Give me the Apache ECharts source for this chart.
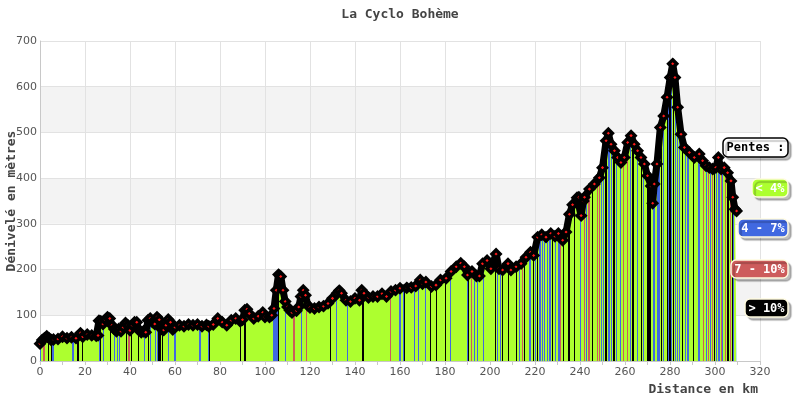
<!DOCTYPE html>
<html>
<head>
<meta charset="utf-8">
<script src="https://cdn.jsdelivr.net/npm/echarts@6/dist/echarts.min.js"></script>
<style>html,body{margin:0;padding:0;background:#fff}#c{width:800px;height:400px}</style>
</head>
<body>
<div id="c"></div>
<script>
// Elevation profile: [distance km, elevation m]
const profile = [[0,38],[1,46],[2,50],[3,54],[4,50],[5,46],[6,47],[8,48],[10,53],[12,50],[14,52],[16,50],[18,61],[19,53],[21,58],[23,56],[25,55],[25.8,56],[26.2,88],[27,87],[28,81],[29,90],[30,96],[31,93],[32,78],[33,70],[34,65],[35,70],[36,65],[37,74],[38,83],[39,78],[40,67],[41,78],[42,85],[43,85],[44,67],[45,63],[46,65],[47,63],[48,89],[49,93],[50,85],[51,81],[52,96],[53,90],[54,70],[55,68],[56,78],[57,91],[58,85],[59,69],[60,74],[62,78],[64,76],[66,80],[68,78],[70,80],[72,76],[74,79],[75,76],[77,80],[79,93],[81,85],[83,78],[85,89],[87,93],[89,87],[90,90],[91,111],[92,113],[93,104],[95,93],[97,98],[99,106],[100,96],[102,96],[103,100],[104,115],[105,155],[106,189],[107,185],[108,155],[109,130],[110,118],[111,111],[112,106],[114,110],[115,118],[116,141],[117,155],[118,144],[119,122],[120,117],[122,115],[124,118],[126,120],[128,126],[130,137],[132,148],[133,154],[134,148],[136,133],[138,130],[140,137],[142,133],[143,155],[144,148],[146,139],[148,141],[150,141],[152,147],[154,141],[156,152],[158,155],[160,159],[163,160],[165,161],[167,164],[169,177],[170,169],[171.5,173],[174,163],[176,166],[178,177],[180.5,181],[182.7,196],[185,206],[187,214],[188.6,206],[190,188],[192,196],[194,186],[195.3,186],[196.7,213],[198.7,220],[200.4,202],[202.7,234],[204,202],[205.6,199],[208,213],[209.3,199],[211.6,206],[213.8,213],[216,227],[218,238],[219.4,231],[221.2,271],[223,276],[224.9,271],[227,279],[228.9,273],[230.4,279],[232.3,264],[233.8,282],[235.3,321],[236.7,342],[238.7,357],[239.5,358],[240.5,318],[241.5,350],[242,358],[244.2,376],[246.4,387],[248.6,401],[250,423],[251.6,482],[252.6,498],[253.8,474],[255.3,460],[256.7,445],[258.2,434],[259.7,445],[261.2,478],[262.7,493],[264.1,474],[265.6,460],[267.1,445],[268.6,431],[270,405],[271.6,383],[272.3,345],[273,387],[274.2,431],[275.7,511],[277.2,536],[278.7,577],[280.1,620],[281.2,650],[282.2,620],[283.4,555],[284.9,496],[286.4,467],[288.6,456],[290.8,445],[293,453],[294.5,438],[296,427],[297.5,423],[299,420],[300.4,423],[301.5,445],[302.7,420],[304.1,423],[305.6,412],[307.1,394],[307.9,358],[308.9,332],[309.6,328]];

// Start km of short steep segments, by slope class
const slope4to7 = [0,5.5,14.4,26,27.9,33,34,35,46,49,51,52,56.7,59.7,70.8,74.5,103.7,104.6,105.2,109,116,131.6,136.3,159.7,161.2,166.2,168.1,171.1,182.2,189.6,192.9,194,197,203,204.4,213,217.5,220,221.9,223,224,225.2,226.4,228.9,230.4,240,242.7,249.2,250,252.6,253.6,256,257.8,262.2,265.2,268.1,272.6,274.1,274.8,277,279,280.3,282.2,283,284.1,286.7,287.7,292.6,296,297.8,300.4,301.5,303,308.1];
const slope7to10 = [1.5,39.3,112.6,118,155.6,191.4,214.1,231.1,241.8,243.7,247.4,248.4,259,260.7,294.5,297,298.5,302.5,304.4,306.7];
const slopeOver10 = [3.4,4.9,16.6,18.5,26.6,31.1,38.2,40.4,43.4,47.9,52.6,53.1,54,75,89,90.8,105.8,128.9,143.3,161.8,173.3,175.9,180,190,202.2,205.2,208.1,211.6,215.1,219,220.7,227.4,232.3,234.8,237.3,245.2,251.3,254.8,263.3,267,269.9,270.8,275.9,278.5,279.7,281.2,285.2,290,299.6,305.5,307.4];
const slopeEnd = [309.2];

const legendItems = ['Pentes :', '< 4%', '4 - 7%', '7 - 10%', '> 10%'];

const C_LOW = '#adff2f', C_MID = '#4169e1', C_HIGH = '#cd5c5c', C_MAX = '#000000', C_END = '#87cedb';

// Build visualMap pieces from segment lists
const segs = [];
slope4to7.forEach(s => segs.push({s, c: C_MID}));
slope7to10.forEach(s => segs.push({s, c: C_HIGH}));
slopeOver10.forEach(s => segs.push({s, c: C_MAX}));
slopeEnd.forEach(s => segs.push({s, c: C_END}));
segs.sort((a, b) => a.s - b.s);
const W = 0.55;
const pieces = segs.map((g, i) => {
  let e = g.s + W;
  if (i < segs.length - 1 && segs[i + 1].s < e) e = segs[i + 1].s;
  return {gte: g.s, lt: e, color: g.c};
});

const mono = 'DejaVu Sans Mono';
const chart = echarts.init(document.getElementById('c'));

const boxes = [
  {x: 723, y: 138, w: 65, h: 19, fill: '#fff', stroke: '#000', tc: '#000'},
  {x: 752, y: 179, w: 36, h: 18, fill: C_LOW, stroke: '#fffbe0', tc: '#fff'},
  {x: 738, y: 219, w: 50, h: 18, fill: C_MID, stroke: '#fffbe0', tc: '#fff'},
  {x: 731, y: 260, w: 57, h: 18, fill: C_HIGH, stroke: '#fffbe0', tc: '#fff'},
  {x: 745, y: 299, w: 43, h: 18, fill: C_MAX, stroke: '#fffbe0', tc: '#fff'}
];
const graphics = boxes.map((b, i) => ({
  type: 'group', z: 100,
  children: [
    {type: 'rect', z: 100, shape: {x: b.x, y: b.y, width: b.w, height: b.h, r: 5},
     style: {fill: b.fill, stroke: b.stroke, lineWidth: 1.5, shadowColor: 'rgba(0,0,0,0.25)', shadowOffsetX: 3, shadowOffsetY: 3, shadowBlur: 1}},
    {type: 'text', z: 101, x: b.x + b.w / 2, y: b.y + b.h / 2 + 0.5,
     style: {text: legendItems[i], fill: b.tc, font: 'bold 12px "' + mono + '"', textAlign: 'center', textVerticalAlign: 'middle'}}
  ]
}));

chart.setOption({
  animation: false,
  backgroundColor: '#fff',
  title: {
    text: 'La Cyclo Bohème', left: 'center', top: 3,
    textStyle: {fontFamily: mono, fontWeight: 'bold', fontSize: 13, color: '#444'}
  },
  grid: {left: 40, right: 40, top: 41, bottom: 39, containLabel: false, outerBoundsMode: 'none'},
  xAxis: {
    type: 'value', min: 0, max: 320, interval: 20,
    name: 'Distance en km', nameLocation: 'end', nameGap: -2, nameMoveOverlap: false,
    nameTextStyle: {fontFamily: mono, fontWeight: 'bold', fontSize: 13, color: '#444', align: 'right', verticalAlign: 'top', padding: [22, 0, 0, 0]},
    axisLine: {lineStyle: {color: '#c8c8c8'}},
    axisTick: {show: true, length: 4, lineStyle: {color: '#c8c8c8'}},
    minorTick: {show: true, splitNumber: 2, length: 4, lineStyle: {color: '#c8c8c8'}},
    axisLabel: {color: '#555', fontSize: 11, fontFamily: 'DejaVu Sans', margin: 6},
    splitLine: {show: true, lineStyle: {color: '#e2e2e2'}}
  },
  yAxis: {
    type: 'value', min: 0, max: 700, interval: 100,
    name: 'Dénivelé en mètres', nameLocation: 'middle', nameGap: 22, nameMoveOverlap: false,
    nameTextStyle: {fontFamily: mono, fontWeight: 'bold', fontSize: 13, color: '#444'},
    axisLine: {show: true, lineStyle: {color: '#c8c8c8'}},
    axisTick: {show: false},
    axisLabel: {color: '#555', fontSize: 11, fontFamily: 'DejaVu Sans', margin: 3},
    splitLine: {show: true, lineStyle: {color: '#e2e2e2'}},
    splitArea: {show: true, areaStyle: {color: ['#ffffff', '#f3f3f3']}}
  },
  visualMap: {
    type: 'piecewise', show: false, dimension: 0, seriesIndex: 0,
    pieces: pieces, outOfRange: {color: C_LOW}
  },
  series: [
    {
      type: 'line', data: profile, showSymbol: false, symbol: 'none',
      lineStyle: {width: 0}, areaStyle: {opacity: 1}, z: 2, silent: true
    },
    {
      type: 'line', data: profile, showSymbol: true, showAllSymbol: true,
      symbol: 'diamond', symbolSize: 8,
      itemStyle: {color: '#ff1a1a', borderColor: '#000', borderWidth: 3.5},
      lineStyle: {color: '#000', width: 7, join: 'round'}, z: 3, silent: true
    }
  ],
  graphic: graphics
});
</script>
</body>
</html>
